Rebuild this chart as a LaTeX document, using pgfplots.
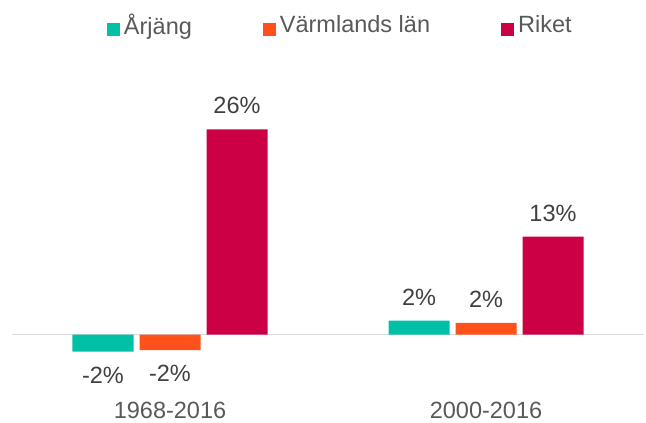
\documentclass[border=0pt]{standalone}
\usepackage{fontspec}
\setmainfont{Liberation Sans}
\usepackage{pgfplots}
\pgfplotsset{compat=1.18}
\definecolor{cA}{HTML}{00C0A8}
\definecolor{cB}{HTML}{FF5119}
\definecolor{cC}{HTML}{CC0044}
\definecolor{txt}{HTML}{595959}
\definecolor{lbl}{HTML}{404040}
\definecolor{zl}{HTML}{D9D9D9}
\begin{document}
\begin{tikzpicture}
\begin{axis}[
  at={(0pt,0pt)}, anchor=south west,
  scale only axis,
  width=632pt, height=264.2pt,
  xmin=-0.5, xmax=1.5, ymin=-4, ymax=30,
  ybar=6pt, bar width=61pt,
  axis line style={draw=none},
  xtick=data, xticklabels={1968-2016,2000-2016},
  major tick length=0pt,
  xticklabel style={anchor=north, inner sep=0pt, yshift=-36pt, text=txt},
  ytick=\empty,
  extra y ticks={0}, extra y tick labels={},
  extra y tick style={grid=major, major grid style={color=zl, line width=1pt}},
  font=\fontsize{23.5}{28}\selectfont,
  /pgf/number format/assume math mode=true,
  nodes near coords={\pgfmathprintnumber[fixed,precision=0]{\pgfplotspointmeta}\%},
  every node near coord/.append style={text=lbl, inner sep=15pt, font=\fontsize{23.5}{28}\selectfont},
  legend columns=3,
  legend style={draw=none, fill=none, at={(rel axis cs:0.1503,1.289)}, anchor=west,
    inner sep=0pt, outer sep=0pt, nodes={inner sep=0pt, text=txt}, column sep=4pt,
    /tikz/every even column/.append style={column sep=71pt}},
  legend image code/.code={\path[draw=none, fill=none] (0pt,-10.5pt) rectangle (13pt,10.5pt);
    \fill[#1] (0pt,-10.5pt) rectangle (13pt,2.5pt);},
]
\addplot[fill=cA, draw=none] coordinates {(0,-2.2) (1,1.8)};
\addplot[fill=cB, draw=none] coordinates {(0,-2.0) (1,1.5)};
\addplot[fill=cC, draw=none] coordinates {(0,26.4) (1,12.6)};
\legend{Årjäng, Värmlands län, Riket}
\end{axis}
\pgfresetboundingbox
\path (-12pt,-57.4pt) rectangle (634pt,365.6pt);
\end{tikzpicture}
\end{document}
